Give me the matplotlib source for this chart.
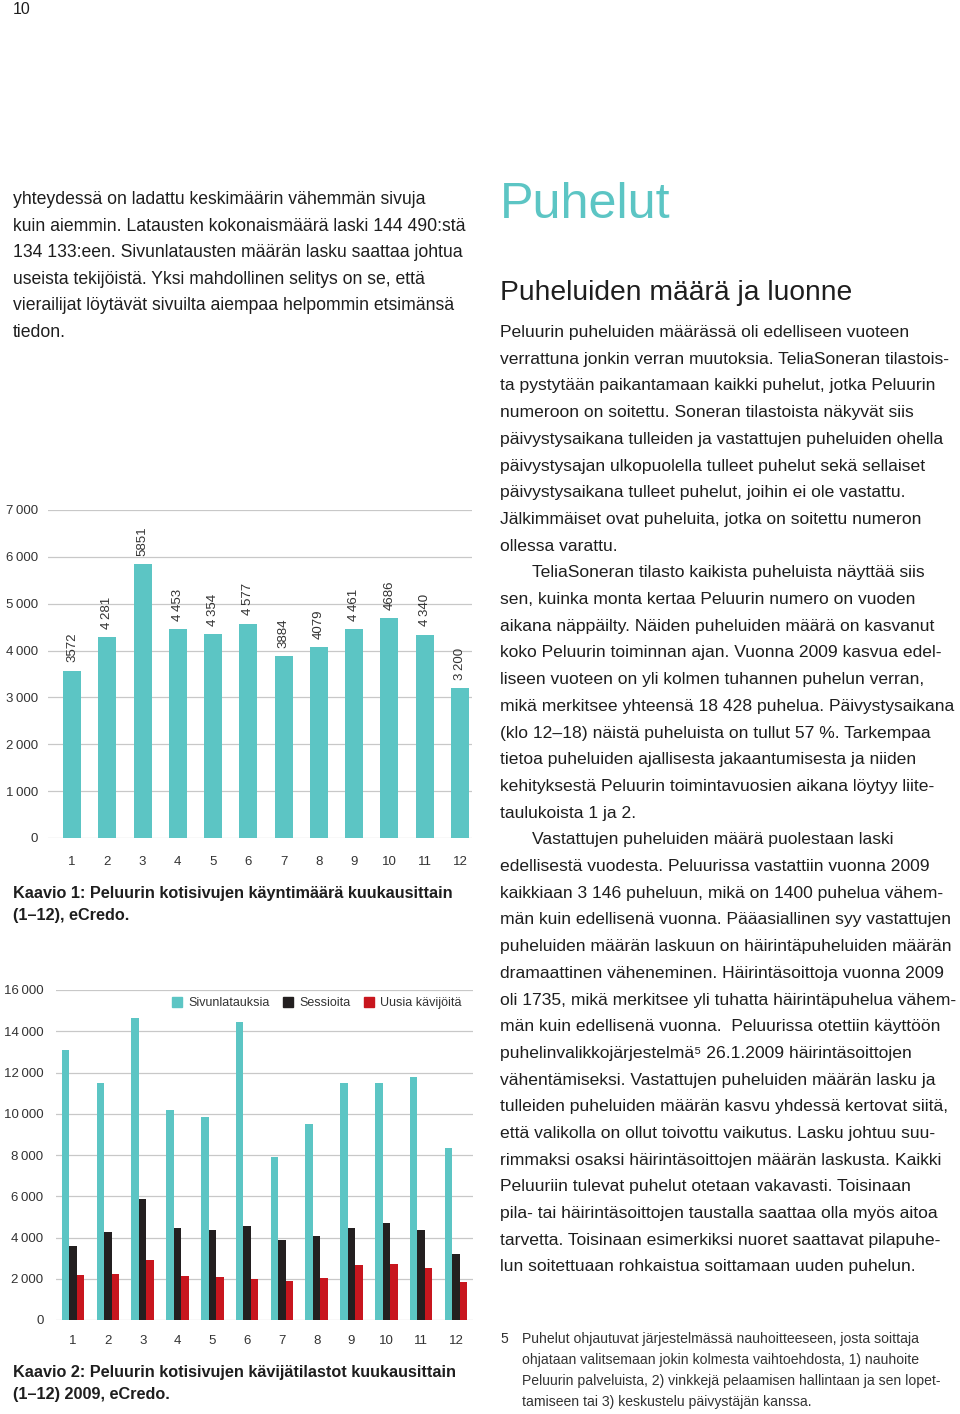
import numpy as np
import matplotlib
matplotlib.use("Agg")
import matplotlib.pyplot as plt
from matplotlib.lines import Line2D
from matplotlib.ticker import FuncFormatter

# ---------------- data ----------------
months = ["1", "2", "3", "4", "5", "6", "7", "8", "9", "10", "11", "12"]
visits = [3572, 4281, 5851, 4453, 4354, 4577, 3884, 4079, 4461, 4686, 4340, 3200]
visit_labels = ["3572", "4\u2009281", "5851", "4\u2009453", "4\u2009354", "4\u2009577",
                "3884", "4079", "4\u2009461", "4686", "4\u2009340", "3\u2009200"]
page_loads = [13090, 11470, 14630, 10180, 9860, 14430, 7920, 9500, 11480, 11470, 11770, 8320]
sessions = [3572, 4281, 5851, 4453, 4354, 4577, 3884, 4079, 4461, 4686, 4340, 3200]
new_visitors = [2180, 2230, 2910, 2150, 2100, 1970, 1890, 2020, 2670, 2710, 2500, 1830]
series_labels = ["Sivunlatauksia", "Sessioita", "Uusia kävijöitä"]
y1_ticks = [0, 1000, 2000, 3000, 4000, 5000, 6000, 7000]
y2_ticks = [0, 2000, 4000, 6000, 8000, 10000, 12000, 14000, 16000]

left_text = [
    "yhteydessä on ladattu keskimäärin vähemmän sivuja",
    "kuin aiemmin. Latausten kokonaismäärä laski 144 490:stä",
    "134 133:een. Sivunlatausten määrän lasku saattaa johtua",
    "useista tekijöistä. Yksi mahdollinen selitys on se, että",
    "vierailijat löytävät sivuilta aiempaa helpommin etsimänsä",
    "tiedon.",
]
right_text = [
    "Peluurin puheluiden määrässä oli edelliseen vuoteen",
    "verrattuna jonkin verran muutoksia. TeliaSoneran tilastois-",
    "ta pystytään paikantamaan kaikki puhelut, jotka Peluurin",
    "numeroon on soitettu. Soneran tilastoista näkyvät siis",
    "päivystysaikana tulleiden ja vastattujen puheluiden ohella",
    "päivystysajan ulkopuolella tulleet puhelut sekä sellaiset",
    "päivystysaikana tulleet puhelut, joihin ei ole vastattu.",
    "Jälkimmäiset ovat puheluita, jotka on soitettu numeron",
    "ollessa varattu.",
    "\tTeliaSoneran tilasto kaikista puheluista näyttää siis",
    "sen, kuinka monta kertaa Peluurin numero on vuoden",
    "aikana näppäilty. Näiden puheluiden määrä on kasvanut",
    "koko Peluurin toiminnan ajan. Vuonna 2009 kasvua edel-",
    "liseen vuoteen on yli kolmen tuhannen puhelun verran,",
    "mikä merkitsee yhteensä 18 428 puhelua. Päivystysaikana",
    "(klo 12–18) näistä puheluista on tullut 57 %. Tarkempaa",
    "tietoa puheluiden ajallisesta jakaantumisesta ja niiden",
    "kehityksestä Peluurin toimintavuosien aikana löytyy liite-",
    "taulukoista 1 ja 2.",
    "\tVastattujen puheluiden määrä puolestaan laski",
    "edellisestä vuodesta. Peluurissa vastattiin vuonna 2009",
    "kaikkiaan 3 146 puheluun, mikä on 1400 puhelua vähem-",
    "män kuin edellisenä vuonna. Pääasiallinen syy vastattujen",
    "puheluiden määrän laskuun on häirintäpuheluiden määrän",
    "dramaattinen väheneminen. Häirintäsoittoja vuonna 2009",
    "oli 1735, mikä merkitsee yli tuhatta häirintäpuhelua vähem-",
    "män kuin edellisenä vuonna.  Peluurissa otettiin käyttöön",
    "puhelinvalikkojärjestelmä⁵ 26.1.2009 häirintäsoittojen",
    "vähentämiseksi. Vastattujen puheluiden määrän lasku ja",
    "tulleiden puheluiden määrän kasvu yhdessä kertovat siitä,",
    "että valikolla on ollut toivottu vaikutus. Lasku johtuu suu-",
    "rimmaksi osaksi häirintäsoittojen määrän laskusta. Kaikki",
    "Peluuriin tulevat puhelut otetaan vakavasti. Toisinaan",
    "pila- tai häirintäsoittojen taustalla saattaa olla myös aitoa",
    "tarvetta. Toisinaan esimerkiksi nuoret saattavat pilapuhe-",
    "lun soitettuaan rohkaistua soittamaan uuden puhelun.",
]
footnote = [
    "Puhelut ohjautuvat järjestelmässä nauhoitteeseen, josta soittaja",
    "ohjataan valitsemaan jokin kolmesta vaihtoehdosta, 1) nauhoite",
    "Peluurin palveluista, 2) vinkkejä pelaamisen hallintaan ja sen lopet-",
    "tamiseen tai 3) keskustelu päivystäjän kanssa.",
]
caption1 = ["Kaavio 1: Peluurin kotisivujen käyntimäärä kuukausittain", "(1–12), eCredo."]
caption2 = ["Kaavio 2: Peluurin kotisivujen kävijätilastot kuukausittain", "(1–12) 2009, eCredo."]

# ---------------- style ----------------
FAM = ["Liberation Sans", "DejaVu Sans"]
plt.rcParams["font.family"] = FAM
TEAL = "#5CC5C4"
BLACK = "#231F20"
RED = "#C8161E"
TXT = "#1E1E1E"
GRID = "#C8C8C8"

W, H = 960, 1414
fig = plt.figure(figsize=(W / 100, H / 100), dpi=100)


def fx(x):
    return x / W


def fy(y):
    return 1 - y / H


def put(x, y, s, **kw):
    kw.setdefault("color", TXT)
    fig.text(fx(x), fy(y), s, ha="left", va="baseline", **kw)


thin = FuncFormatter(lambda v, p: f"{int(v):,}".replace(",", "\u2009"))

# page number
put(13, 14, "10", fontsize=11.5)

# left column text
for i, line in enumerate(left_text):
    put(13, 204 + 26.6 * i, line, fontsize=12.7)

# right column
put(500, 218, "Puhelut", fontsize=36.3, color=TEAL)
put(500, 300, "Puheluiden määrä ja luonne", fontsize=20.3)
for i, line in enumerate(right_text):
    x0 = 500
    if line.startswith("\t"):
        line = line[1:]
        x0 = 532
    put(x0, 337 + 26.7 * i, line, fontsize=12.6)

put(500, 1343, "5", fontsize=10.1, color="#333333")
for i, line in enumerate(footnote):
    put(522, 1343 + 21 * i, line, fontsize=10.1, color="#333333")

for i, line in enumerate(caption1):
    put(13, 898 + 22 * i, line, fontsize=11.7, fontweight="bold")
for i, line in enumerate(caption2):
    put(13, 1377 + 22 * i, line, fontsize=11.7, fontweight="bold")

# ---------------- chart 1 ----------------
pos = np.arange(1, len(months) + 1)
ax1 = fig.add_axes([fx(48), fy(838), 424 / W, 328 / H])
bars = ax1.bar(pos, visits, width=0.51, color=TEAL, zorder=2)
ax1.set_xlim(0.32, 12.34)
ax1.set_ylim(0, 7000)
ax1.set_yticks(y1_ticks)
ax1.yaxis.set_major_formatter(thin)
ax1.set_xticks(pos)
ax1.set_xticklabels(months)
ax1.yaxis.grid(True, color=GRID, lw=0.9, zorder=0)
ax1.set_axisbelow(True)
for s in ax1.spines.values():
    s.set_visible(False)
ax1.tick_params(axis="y", length=0, labelsize=9.5, labelcolor="#333333", pad=7)
ax1.tick_params(axis="x", length=0, labelsize=9.5, labelcolor="#333333", pad=13)
for b, lab in zip(bars, visit_labels):
    ax1.annotate(lab, (b.get_x() + b.get_width() / 2, b.get_height()),
                 xytext=(0, 6), textcoords="offset points", rotation=90,
                 ha="center", va="bottom", fontsize=9.5, color="#333333")

# ---------------- chart 2 ----------------
ax2 = fig.add_axes([fx(56), fy(1320), 417 / W, 330 / H])
w = 0.216
cols = [TEAL, BLACK, RED]
for k, (vals, c) in enumerate(zip([page_loads, sessions, new_visitors], cols)):
    ax2.bar(pos + (k - 1) * w, vals, width=w, color=c, zorder=2)
ax2.set_xlim(0.51, 12.49)
ax2.set_ylim(0, 16000)
ax2.set_yticks(y2_ticks)
ax2.yaxis.set_major_formatter(thin)
ax2.set_xticks(pos)
ax2.set_xticklabels(months)
ax2.yaxis.grid(True, color=GRID, lw=0.9, zorder=0)
ax2.set_axisbelow(True)
for s in ax2.spines.values():
    s.set_visible(False)
ax2.tick_params(axis="y", length=0, labelsize=9.5, labelcolor="#333333", pad=9)
ax2.tick_params(axis="x", length=0, labelsize=9.5, labelcolor="#333333", pad=11)
handles = [Line2D([], [], marker="s", ls="none", color=c, markersize=6.5) for c in cols]
ax2.legend(handles, series_labels, loc="center right", bbox_to_anchor=(0.972, 0.96),
           ncol=3, frameon=False, fontsize=9, handlelength=0.8, handletextpad=0.45,
           columnspacing=1.12, borderaxespad=0, borderpad=0, labelcolor="#333333")

fig.savefig("out.png", dpi=100)
